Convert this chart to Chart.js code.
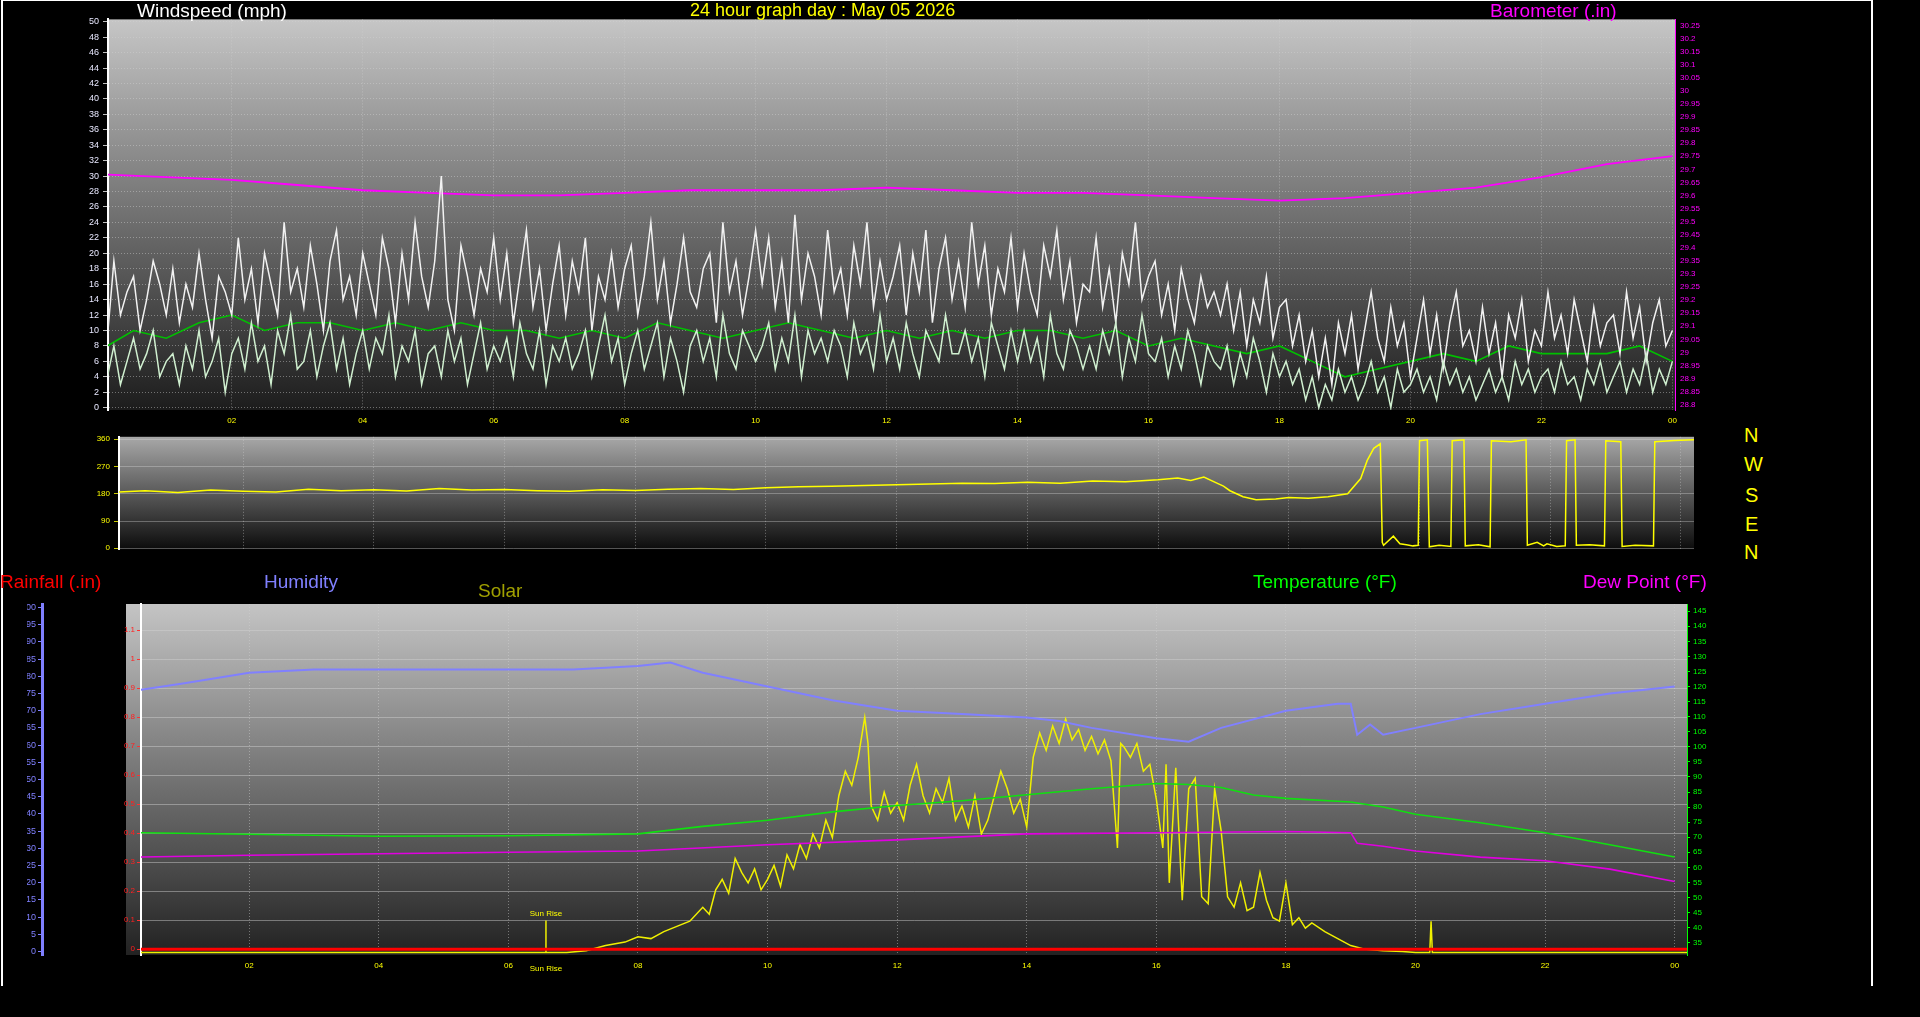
<!DOCTYPE html>
<html><head><meta charset="utf-8">
<script src="https://cdn.jsdelivr.net/npm/chart.js@4"></script>
<style>
html,body{margin:0;padding:0;background:#000;width:1920px;height:1017px;overflow:hidden;font-family:"Liberation Sans",Arial,sans-serif}
canvas{position:absolute}
.t{position:absolute;white-space:nowrap;line-height:1}
#frame{position:absolute;left:1px;top:0;width:1868px;height:985px;border-left:2px solid #fff;border-right:2px solid #fff;border-top:1px solid #fff}
</style></head><body>
<div id="frame"></div>
<canvas id="c1" width="1680" height="422" style="left:40px;top:10px"></canvas>
<canvas id="c2" width="1650" height="130" style="left:60px;top:428px"></canvas>
<canvas id="c3" width="1700" height="400" style="left:27px;top:590px"></canvas>
<div class="t" style="left:137px;top:1px;font-size:19px;color:#fff">Windspeed (mph)</div>
<div class="t" style="left:690px;top:1px;font-size:18px;color:#ffff00">24 hour graph day : May 05 2026</div>
<div class="t" style="left:1490px;top:1px;font-size:19px;color:#ff00ff">Barometer (.in)</div>
<div class="t" style="left:1744px;top:425px;font-size:20px;color:#ffff00">N</div>
<div class="t" style="left:1744px;top:454px;font-size:20px;color:#ffff00">W</div>
<div class="t" style="left:1745px;top:485px;font-size:20px;color:#ffff00">S</div>
<div class="t" style="left:1745px;top:514px;font-size:20px;color:#ffff00">E</div>
<div class="t" style="left:1744px;top:542px;font-size:20px;color:#ffff00">N</div>
<div class="t" style="left:0px;top:572px;font-size:19px;color:#ff0000">Rainfall (.in)</div>
<div class="t" style="left:264px;top:572px;font-size:19px;color:#8080ff">Humidity</div>
<div class="t" style="left:478px;top:581px;font-size:19px;color:#a0a000">Solar</div>
<div class="t" style="left:1253px;top:572px;font-size:19px;color:#00ff00">Temperature (°F)</div>
<div class="t" style="left:1583px;top:572px;font-size:19px;color:#ff00ff">Dew Point (°F)</div>
<script>
// ---------- DATA ----------
const windStep = 0.1; // hours between wind samples, first at 0.1
const gust = [
9,19,12,15,17,10,14,19,16,12, 18,11,16,13,20,14,9,17,15,12,
22,14,18,11,20,16,12,24,15,18, 13,21,16,10,19,23,14,17,12,20,
16,12,22,18,11,20,14,24,17,13, 19,30,14,10,21,17,12,18,15,22,
14,20,11,17,23,13,18,10,16,21, 12,19,15,22,10,17,14,20,13,18,
21,12,17,24,14,19,11,16,22,15, 13,18,20,11,24,15,19,12,17,23,
16,22,13,19,11,25,14,20,17,12, 23,15,18,12,21,16,24,13,19,14,
17,21,12,20,15,23,11,18,22,14, 19,13,24,16,21,12,18,15,22,13,
20,15,12,21,17,23,14,19,11,16, 15,22,13,18,11,20,16,24,14,17,
19,12,16,10,18,14,11,17,13,15, 12,16,10,15,8,14,11,17,9,13,
14,8,12,6,10,4,9,3,11,7, 12,5,10,15,9,6,13,8,11,4,
9,14,7,12,5,11,15,8,10,6, 13,7,11,4,12,9,14,6,10,8,
15,9,12,7,14,10,6,13,8,11, 12,7,15,9,13,6,11,14,8,10];
const avgWind = [
4,8,3,6,9,5,7,10,4,6, 7,3,8,5,10,4,6,9,2,7,
9,5,11,6,8,3,10,7,12,5, 6,10,4,8,11,5,9,3,7,10,
5,9,7,12,4,8,6,10,3,7, 8,4,10,6,9,3,7,11,5,8,
6,9,4,11,7,5,10,3,8,6, 9,5,7,10,4,8,12,6,9,3,
7,10,5,8,11,4,9,6,2,8, 10,6,9,4,12,7,5,10,8,6,
8,11,5,9,6,12,4,10,7,9, 6,10,8,4,11,7,9,5,12,6,
9,5,11,7,4,10,8,6,12,7, 7,10,6,9,4,11,8,5,10,6,
10,6,9,4,12,7,5,10,8,5, 8,5,10,7,11,4,9,6,12,7,
6,9,4,8,5,10,7,3,8,6, 5,8,3,7,4,9,6,2,7,4,
6,3,5,1,4,0,3,1,5,2, 4,1,3,6,2,4,0,5,2,3,
5,2,4,1,6,3,5,2,4,1, 3,5,2,4,1,6,3,5,2,4,
5,2,6,3,4,1,5,3,6,2, 4,6,2,5,3,7,2,5,3,6];
const tenMinHours = [0.1,0.5,1,1.5,2,2.5,3,3.5,4,4.5,5,5.5,6,6.5,7,7.5,8,8.5,9,9.5,10,10.5,11,11.5,12,12.5,13,13.5,14,14.5,15,15.5,16,16.5,17,17.5,18,18.5,19,19.5,20,20.5,21,21.5,22,22.5,23,23.5,24];
const tenMinAvg = [8,10,9,11,12,10,11,11,10,11,10,11,10,10,9,10,9,11,10,9,10,11,10,9,10,9,10,9,10,10,9,10,8,9,8,7,8,6,4,5,6,7,6,8,7,7,7,8,6];
const baroHours = [0.1,1,2,3,4,5,6,7,8,9,10,11,12,13,14,15,16,17,18,19,20,21,22,23,24];
const baro = [29.68,29.67,29.66,29.64,29.62,29.61,29.60,29.60,29.61,29.62,29.62,29.62,29.63,29.62,29.61,29.61,29.60,29.59,29.58,29.59,29.61,29.63,29.67,29.72,29.75];
const dirHours = [0.1,0.5,1,1.5,2,2.5,3,3.5,4,4.5,5,5.5,6,6.5,7,7.5,8,8.5,9,9.5,10,10.5,11,11.5,12,12.5,13,13.5,14,14.5,15,15.5,16,16.3,16.5,16.7,16.9,17.0,17.1,17.3,17.5,17.8,18,18.3,18.6,18.9,19.1,19.2,19.3,19.4,19.43,19.45,19.6,19.7,19.8,19.9,19.98,20.0,20.12,20.15,20.3,20.48,20.5,20.68,20.7,20.9,21.08,21.1,21.4,21.63,21.65,21.8,21.9,21.95,22.1,22.23,22.25,22.38,22.4,22.6,22.83,22.85,23.08,23.1,23.3,23.58,23.6,23.9,24.2];
const dir = [186,190,184,192,188,186,195,190,193,189,197,192,194,190,188,193,191,195,197,194,200,203,205,207,210,212,215,214,218,215,222,220,226,232,224,235,215,205,190,170,160,163,168,165,170,180,230,290,330,345,20,10,40,15,12,8,10,355,358,5,10,6,355,358,8,12,5,355,352,358,10,20,8,15,6,8,355,358,10,12,8,355,352,6,10,8,352,356,358];
const humHours = [0.3,1,2,3,4,5,6,7,8,8.5,9,10,11,12,13,14,14.5,15,16,16.5,17,18,18.8,19.0,19.1,19.3,19.5,20,21,22,23,24];
const humidity = [76,78,81,82,82,82,82,82,83,84,81,77,73,70,69,68,67,65,62,61,65,70,72,72,63,66,63,65,69,72,75,77];
const tempHours = [0.3,2,4,6,8,9,10,11,12,13,14,15,16,16.5,17,17.5,18,19,19.5,20,21,22,23,24];
const temp = [71.5,71,70.3,70.5,71.1,73.6,75.6,78.4,80.5,82.1,84.1,86.1,87.8,87.5,86.5,84,82.9,81.7,80,77.6,74.8,71.5,67.5,63.4];
const dewHours = [0.3,2,4,6,8,10,12,14,16,18,19,19.1,19.5,20,21,22,23,24];
const dew = [63.4,64,64.5,65,65.4,67.5,69.1,71.1,71.5,71.9,71.5,68,67,65.4,63.4,62.2,59.4,55.3];
const solarHours = [0.3,6.9,7.2,7.5,7.8,8,8.2,8.4,8.6,8.8,9.0,9.1,9.2,9.3,9.4,9.5,9.6,9.7,9.8,9.9,10.0,10.1,10.2,10.3,10.4,10.5,10.6,10.7,10.8,10.9,11.0,11.1,11.2,11.3,11.4,11.5,11.55,11.6,11.7,11.8,11.9,12.0,12.1,12.2,12.3,12.4,12.5,12.6,12.7,12.8,12.9,13.0,13.1,13.2,13.3,13.4,13.5,13.6,13.7,13.8,13.9,14.0,14.1,14.2,14.3,14.4,14.5,14.6,14.7,14.8,14.9,15.0,15.1,15.2,15.3,15.4,15.45,15.5,15.6,15.7,15.8,15.9,16.0,16.1,16.15,16.2,16.3,16.4,16.5,16.6,16.7,16.8,16.9,17.0,17.1,17.2,17.3,17.4,17.5,17.6,17.7,17.8,17.9,18.0,18.1,18.2,18.3,18.4,18.6,18.8,19.0,19.2,19.5,19.8,20.0,20.22,20.24,20.26,24.2];
const solar = [0,0,5,20,30,45,40,60,75,90,130,110,180,210,170,270,230,200,240,180,210,250,190,280,240,310,270,340,300,380,330,450,520,480,560,675,600,420,380,460,400,430,380,480,540,450,400,470,430,500,380,420,360,450,340,380,450,520,470,400,440,360,560,630,580,650,600,670,610,640,580,620,570,610,550,300,600,590,560,600,520,540,440,300,540,200,530,150,470,500,160,140,470,350,160,130,200,120,130,230,150,100,90,200,80,100,70,85,60,40,20,10,5,3,0,0,90,0,0];
const rainHours = [0.3,24.2];
const rain = [0,0];
const sunRiseHour = 6.58;
const sunRiseMark = [0,92];
const hourTicks = [2,4,6,8,10,12,14,16,18,20,22,24];

// ---------- HELPERS ----------
const pts = (xs, ys) => ys.map((y,i)=>({x:xs[i], y}));
const windPts = arr => arr.map((y,i)=>({x:+(windStep*(i+1)).toFixed(2), y}));
const hourLabel = v => String(v%24).padStart(2,'0');
const F = {family:'"Liberation Sans",Arial,sans-serif', size:9};
function bgPlugin(top, bottom, extraLeft){
  return {id:'bg', beforeDraw(c){
    const a=c.chartArea, g=c.ctx.createLinearGradient(0,a.top,0,a.bottom);
    g.addColorStop(0,top); g.addColorStop(1,bottom);
    c.ctx.save(); c.ctx.fillStyle=g;
    c.ctx.fillRect(a.left-(extraLeft||0),a.top,a.right-a.left+(extraLeft||0),a.bottom-a.top);
    c.ctx.restore();
  }};
}
const grid = {color:'rgba(210,210,210,0.45)', lineWidth:1};
function xAxis(min,max,h,showTicks){
  return {type:'linear',min,max,
    afterBuildTicks:s=>{s.ticks=hourTicks.map(v=>({value:v}));},
    afterFit:s=>{s.height=h;},
    ticks:{display:showTicks,color:'#ffff00',font:{...F,size:8},callback:v=>hourLabel(v),maxRotation:0,autoSkip:false,padding:6},
    grid:{...grid,drawTicks:false}, border:{display:false,dash:[1,2]}};
}
const baseOpts = {responsive:false,devicePixelRatio:1,animation:false,
  plugins:{legend:{display:false},tooltip:{enabled:false}},
  elements:{point:{radius:0},line:{tension:0}}};
const line = (data,color,w,axis) => ({data,borderColor:color,borderWidth:w||1.5,yAxisID:axis,fill:false});

// ---------- PANEL 1 ----------
const windTicks=[]; for(let v=0;v<=50;v+=2) windTicks.push(v);
const baroTicks=[]; for(let v=28.8;v<=30.2501;v+=0.05) baroTicks.push(+v.toFixed(2));
new Chart(document.getElementById('c1'),{type:'line',
  data:{datasets:[
    line(windPts(avgWind),'#d0f0d0',1.5,'y'),
    line(windPts(gust),'#f2f2f2',1.5,'y'),
    line(pts(tenMinHours,tenMinAvg),'#00c000',1.6,'y'),
    line(pts(baroHours,baro),'#ff00ff',1.8,'y2')]},
  options:{...baseOpts,layout:{padding:{top:8}},
    scales:{
      x:xAxis(0.11,24.04,22,true),
      y:{position:'left',min:-0.3,max:50.3,afterFit:s=>{s.width=68;},
        afterBuildTicks:s=>{s.ticks=windTicks.map(v=>({value:v}));},
        ticks:{color:'#e8e8ff',font:F,padding:4},
        grid:{...grid,tickColor:'#c0c0c0',tickLength:5},border:{color:'#ffffff',width:2,dash:[1,2]}},
      y2:{position:'right',min:28.78,max:30.273,afterFit:s=>{s.width=45;},
        afterBuildTicks:s=>{s.ticks=baroTicks.map(v=>({value:v}));},
        ticks:{color:'#ff00ff',font:{...F,size:8},padding:2,callback:v=>String(+v.toFixed(2))},
        grid:{display:false,drawOnChartArea:false,tickColor:'#ff00ff',tickLength:3},border:{color:'#ff00ff'}}
    }},
  plugins:[bgPlugin('#c6c6c6','#1c1c1c')]});

// ---------- PANEL 2 ----------
new Chart(document.getElementById('c2'),{type:'line',
  data:{datasets:[line(pts(dirHours,dir),'#ffff00',1.5,'y')]},
  options:{...baseOpts,layout:{padding:{top:7,right:16}},
    scales:{
      x:xAxis(0.1,24.2,5,false),
      y:{min:-3,max:368,afterFit:s=>{s.width=59;},
        afterBuildTicks:s=>{s.ticks=[0,90,180,270,360].map(v=>({value:v}));},
        ticks:{color:'#ffff00',font:{...F,size:8},padding:4},
        grid:{...grid,color:'rgba(220,220,220,0.35)',tickColor:'#c8c800',tickLength:5},border:{color:'#ffffff',width:2}}
    }},
  plugins:[bgPlugin('#a8a8a8','#0c0c0c')]});

// ---------- PANEL 3 ----------
const humTicks=[]; for(let v=0;v<=100;v+=5) humTicks.push(v);
const rainTicks=[]; for(let v=0;v<=1.1001;v+=0.1) rainTicks.push(+v.toFixed(1));
const tempTicks=[]; for(let v=35;v<=145;v+=5) tempTicks.push(v);
const sunRisePlugin={id:'sunrise',afterDatasetsDraw(c){
  const x=c.scales.x.getPixelForValue(sunRiseHour), ctx=c.ctx;
  ctx.save(); ctx.fillStyle='#ffff00'; ctx.font='8px "Liberation Sans",Arial'; ctx.textAlign='center';
  ctx.fillText('Sun Rise',x,c.scales.ys.getPixelForValue(sunRiseMark[1])-4);
  ctx.fillText('Sun Rise',x,c.chartArea.bottom+16);
  ctx.restore();
}};
new Chart(document.getElementById('c3'),{type:'line',
  data:{datasets:[
    line(pts(humHours,humidity),'#8080ff',2,'yh'),
    line(pts(tempHours,temp),'#10e010',1.6,'yt'),
    line(pts(dewHours,dew),'#e000e0',1.6,'yt'),
    line(pts(rainHours,rain),'#ff0000',3,'yr'),
    line(pts(solarHours,solar),'#f0f000',1.5,'ys'),
    line(pts([sunRiseHour,sunRiseHour],sunRiseMark),'#f0f000',1.5,'ys')]},
  options:{...baseOpts,layout:{padding:{top:14}},
    scales:{
      x:xAxis(0.33,24.19,35,true),
      yr:{position:'left',weight:0,min:-0.02,max:1.19,afterFit:s=>{s.width=99;},
        afterBuildTicks:s=>{s.ticks=rainTicks.map(v=>({value:v}));},
        ticks:{color:'#ff2020',font:{...F,size:8},padding:2,callback:v=>String(+v.toFixed(1))},
        grid:{...grid,tickColor:'#ff3030',tickLength:4},border:{color:'#ffffff',width:2}},
      yh:{position:'left',weight:5,min:-1,max:101,afterFit:s=>{s.width=15;},
        afterBuildTicks:s=>{s.ticks=humTicks.map(v=>({value:v}));},
        ticks:{color:'#8080ff',font:F,padding:2},
        grid:{drawOnChartArea:false,tickColor:'#8080ff',tickLength:4},border:{color:'#8080ff',width:3}},
      yt:{position:'right',min:30.9,max:147.4,afterFit:s=>{s.width=40;},
        afterBuildTicks:s=>{s.ticks=tempTicks.map(v=>({value:v}));},
        ticks:{color:'#00ff00',font:{...F,size:8},padding:3},
        grid:{drawOnChartArea:false,tickColor:'#00ff00',tickLength:3},border:{color:'#00ff00'}},
      ys:{display:false,min:-7,max:1000}
    }},
  plugins:[bgPlugin('#c4c4c4','#222222',15),sunRisePlugin]});
</script>
</body></html>
